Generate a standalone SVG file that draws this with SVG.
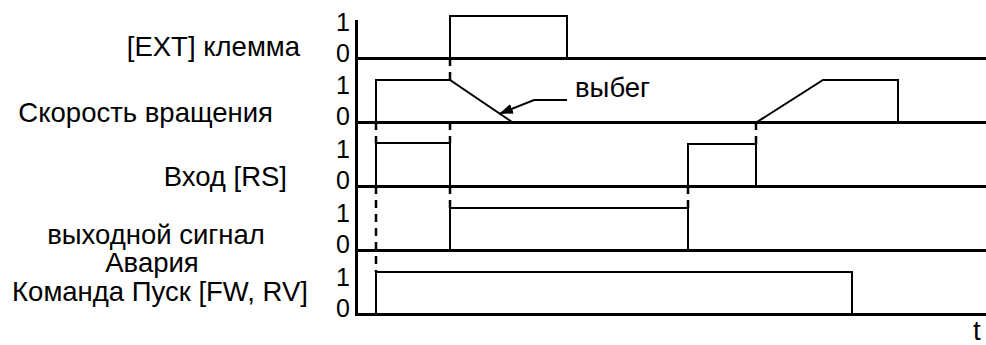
<svg xmlns="http://www.w3.org/2000/svg" width="986" height="345" viewBox="0 0 986 345">
<style>
text{font-family:"Liberation Sans",Arial,sans-serif;fill:#000}
.lbl{font-size:27.5px}
.dig{font-size:25px}
.axis{stroke:#000;stroke-width:3;fill:none}
.wave{stroke:#000;stroke-width:2;fill:none}
.dash{stroke:#000;stroke-width:2.5;stroke-dasharray:8 6;fill:none}
.arr{stroke:#000;stroke-width:2;fill:none}
</style>
<defs>
<marker id="ah" markerUnits="userSpaceOnUse" markerWidth="16" markerHeight="12" refX="14" refY="5" orient="auto">
<path d="M0,0 L14,5 L0,10 z" fill="#000"/>
</marker>
</defs>
<rect width="986" height="345" fill="#fff"/>
<g id="axes">
<path class="axis" d="M356.5,20 V316"/>
<path class="axis" d="M355,58.5 H986 M355,122.5 H986 M355,186.5 H986 M355,250.5 H986 M355,314.5 H986"/>
<text class="dig" x="336" y="31">1</text><text class="dig" x="336" y="62">0</text>
<text class="dig" x="336" y="94">1</text><text class="dig" x="336" y="125">0</text>
<text class="dig" x="336" y="158">1</text><text class="dig" x="336" y="189">0</text>
<text class="dig" x="336" y="222">1</text><text class="dig" x="336" y="253">0</text>
<text class="dig" x="336" y="286">1</text><text class="dig" x="336" y="317">0</text>
<text class="lbl" x="973" y="340">t</text>
</g>
<g id="ext">
<text class="lbl" x="300" y="56" text-anchor="end">[EXT] клемма</text>
<path class="wave" d="M450,58 V16 H567 V58"/>
</g>
<g id="speed">
<text class="lbl" x="273" y="122" text-anchor="end">Скорость вращения</text>
<path class="wave" d="M376,122 V80 H450 L512,122 M757,122 L823,80 H898 V122"/>
</g>
<g id="rs">
<text class="lbl" x="287" y="186" text-anchor="end">Вход [RS]</text>
<path class="wave" d="M376,186 V143 H450 V186 M688,186 V144 H756 V186"/>
</g>
<g id="alarm">
<text class="lbl" x="156" y="244" text-anchor="middle">выходной сигнал</text>
<text class="lbl" x="152" y="272" text-anchor="middle">Авария</text>
<path class="wave" d="M450,250 V208 H688 V250"/>
</g>
<g id="run">
<text class="lbl" x="160" y="301" text-anchor="middle">Команда Пуск [FW, RV]</text>
<path class="wave" d="M376,314 V272 H852 V314"/>
</g>
<g id="connectors">
<path class="dash" d="M450,58 V80 M450,122 V143 M450,186 V208"/>
<path class="dash" d="M376,122 V143 M376,186 V272"/>
<path class="dash" d="M756,122 V144"/>
<path class="dash" d="M688,186 V208"/>
<polyline class="arr" points="567,100 534,100 499,114" marker-end="url(#ah)"/>
<text class="lbl" x="575" y="97">выбег</text>
</g>
</svg>
